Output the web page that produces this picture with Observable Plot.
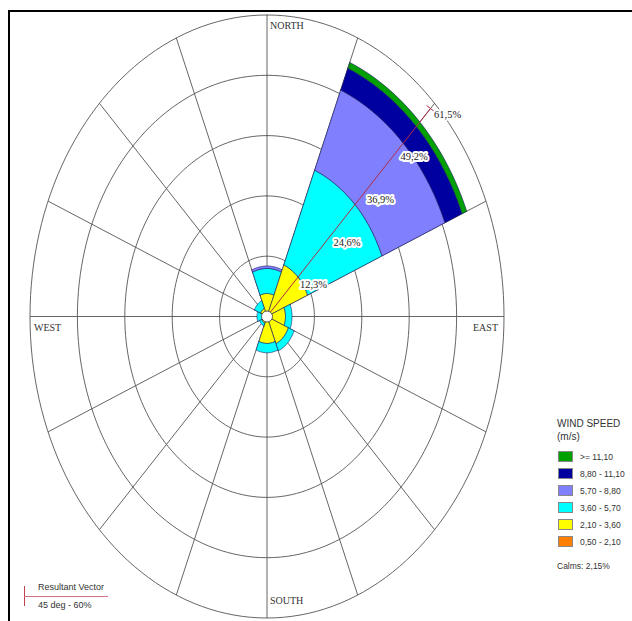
<!DOCTYPE html>
<html><head><meta charset="utf-8">
<script src="https://cdn.jsdelivr.net/npm/d3@7"></script>
<script src="https://cdn.jsdelivr.net/npm/@observablehq/plot@0.6"></script>
<style>
html,body{margin:0;padding:0;background:#fff;}
#wrap{position:relative;width:632px;height:621px;overflow:hidden;font-family:"Liberation Sans",Arial,sans-serif;color:#333;}
#chart{position:absolute;left:0;top:0;}
#frame{position:absolute;left:8px;top:10px;width:640px;height:640px;border-top:2.5px solid #000;border-left:2.5px solid #000;}
.abs{position:absolute;white-space:nowrap;}
.sw{position:absolute;width:15px;height:11px;border:1px solid #888;box-sizing:border-box;}
</style></head><body>
<div id="wrap"><div id="chart"></div><div id="frame"></div><div id="legend"></div></div>
<script>
// ---- data ----
const directions = ["N","NE","E","SE","S","SW","W","NW"];
const directionAngles = [0,45,90,135,180,225,270,315];
const speedBins = ["0,50 - 2,10","2,10 - 3,60","3,60 - 5,70","5,70 - 8,80","8,80 - 11,10",">= 11,10"];
const binColors = ["#ff8000","#ffff00","#00ffff","#8080ff","#0000a0","#00a000"];
// percent frequency per direction, one array per speed class
const bin050_210 = [0.3, 0.5, 0.3, 0.3, 0.2, 0.3, 0.3, 0.3];
const bin210_360 = [4.4, 10.9, 4.5, 5.7, 5.3, 1.2, 0.8, 1.5];
const bin360_570 = [5.1, 20.9, 1.7, 1.6, 1.9, 0.6, 1.5, 1.7];
const bin570_880 = [0.5, 17.7, 0.0, 0.0, 0.0, 0.0, 0.0, 0.0];
const bin880_1110 = [0.0, 4.8, 0.0, 0.0, 0.0, 0.0, 0.0, 0.0];
const bin1110 = [0.0, 1.3, 0.0, 0.0, 0.0, 0.0, 0.0, 0.0];
const ringValues = [12.3, 24.6, 36.9, 49.2, 61.5];
const ringLabels = ["12,3%", "24,6%", "36,9%", "49,2%", "61,5%"];
const gridAngles = d3.range(0, 360, 22.5);
const compassNames = ["NORTH", "EAST", "SOUTH", "WEST"];
const compassAngles = [0, 90, 180, 270];
const resultantAngle = 45;
const resultantValue = 60;
const calmsText = "Calms: 2,15%";

// ---- derived ----
const binsData = [bin050_210, bin210_360, bin360_570, bin570_880, bin880_1110, bin1110];
const maxR = ringValues[ringValues.length - 1];
const rad = a => a * Math.PI / 180;
const px = (r, a) => r * Math.sin(rad(a));
const py = (r, a) => r * Math.cos(rad(a));

const petals = [];
directions.forEach((dir, i) => {
  let cum = 0;
  binsData.forEach((arr, j) => {
    const v = arr[i];
    if (v <= 0) return;
    const r0 = cum, r1 = cum + v;
    cum = r1;
    const id = dir + "-" + j;
    const a0 = directionAngles[i] - 22.5, a1 = directionAngles[i] + 22.5;
    const pts = [];
    for (let a = a0; a <= a1 + 1e-9; a += 1.5) pts.push({id, bin: speedBins[j], x: px(r1, a), y: py(r1, a)});
    for (let a = a1; a >= a0 - 1e-9; a -= 1.5) pts.push({id, bin: speedBins[j], x: px(r0, a), y: py(r0, a)});
    pts.push({...pts[0]});
    petals.push(...pts);
  });
});

const ringPts = [];
ringValues.forEach(r => { for (let a = 0; a <= 360; a += 2) ringPts.push({ring: r, x: px(r, a), y: py(r, a)}); });
const spokes = gridAngles.map(a => ({x2: px(maxR, a), y2: py(maxR, a)}));

// layout
const cx = 266.5, cy = 316, rx = 237, ry = 301.5;
const kx = rx / maxR, ky = ry / maxR;
// resultant vector end tick (perpendicular in screen space)
const ex = px(resultantValue, resultantAngle), ey = py(resultantValue, resultantAngle);
let dxp = Math.sin(rad(resultantAngle)) * kx, dyp = -Math.cos(rad(resultantAngle)) * ky;
const L = Math.hypot(dxp, dyp); dxp /= L; dyp /= L;
const tpx = -dyp * 5, tpy = dxp * 5; // perpendicular pixel offset
const tick = [{x1: ex + tpx / kx, y1: ey - tpy / ky, x2: ex - tpx / kx, y2: ey + tpy / ky}];

const ringLab = ringValues.map((r, i) => ({x: px(r, 45), y: py(r, 45), t: ringLabels[i]}));
const compass = compassNames.map((n, i) => ({n, x: px(maxR, compassAngles[i]), y: py(maxR, compassAngles[i])}));

const plot = Plot.plot({
  width: 632, height: 621, margin: 0,
  x: {domain: [-maxR, maxR], range: [cx - rx, cx + rx], axis: null},
  y: {domain: [-maxR, maxR], range: [cy + ry, cy - ry], axis: null},
  color: {domain: speedBins, range: binColors},
  style: {background: "transparent"},
  marks: [
    Plot.line(ringPts, {x: "x", y: "y", z: "ring", stroke: "#555", strokeWidth: 0.9}),
    Plot.link(spokes, {x1: 0, y1: 0, x2: "x2", y2: "y2", stroke: "#555", strokeWidth: 0.9}),
    Plot.line(petals, {x: "x", y: "y", z: "id", fill: "bin", stroke: "#1a1a60", strokeWidth: 0.6}),
    Plot.link([{x2: ex, y2: ey}], {x1: 0, y1: 0, x2: "x2", y2: "y2", stroke: "#b02c44", strokeWidth: 1}),
    Plot.link(tick, {x1: "x1", y1: "y1", x2: "x2", y2: "y2", stroke: "#b02c44", strokeWidth: 1}),
    Plot.dot([{x: 0, y: 0}], {x: "x", y: "y", r: 5.5, fill: "white", stroke: "#333", strokeWidth: 0.8}),
    Plot.text(ringLab, {x: "x", y: "y", text: "t", dx: 13, dy: 11, fontFamily: "Liberation Serif", fontSize: 10.5, fill: "#222", stroke: "white", strokeWidth: 4, paintOrder: "stroke"}),
    Plot.text(compass.filter(d => d.n === "NORTH"), {x: "x", y: "y", text: "n", textAnchor: "start", dx: 3, dy: 11, fontFamily: "Liberation Serif", fontSize: 10, fill: "#333"}),
    Plot.text(compass.filter(d => d.n === "SOUTH"), {x: "x", y: "y", text: "n", textAnchor: "start", dx: 3, dy: -17, fontFamily: "Liberation Serif", fontSize: 10, fill: "#333"}),
    Plot.text(compass.filter(d => d.n === "WEST"), {x: "x", y: "y", text: "n", textAnchor: "start", dx: 4, dy: 11, fontFamily: "Liberation Serif", fontSize: 10, fill: "#333"}),
    Plot.text(compass.filter(d => d.n === "EAST"), {x: "x", y: "y", text: "n", textAnchor: "end", dx: -6, dy: 11, fontFamily: "Liberation Serif", fontSize: 10, fill: "#333"})
  ]
});
document.getElementById("chart").appendChild(plot);

// ---- legend ----
const leg = document.getElementById("legend");
function addText(t, left, cyText, size) {
  const d = document.createElement("div");
  d.className = "abs"; d.textContent = t;
  d.style.left = left + "px"; d.style.top = (cyText - size * 0.6) + "px";
  d.style.fontSize = size + "px"; d.style.lineHeight = (size * 1.2) + "px";
  leg.appendChild(d);
}
addText("WIND SPEED", 557, 424, 10);
addText("(m/s)", 557, 437, 10);
const order = speedBins.map((b, i) => i).reverse();
order.forEach((bi, k) => {
  const yc = 457 + 17 * k;
  const s = document.createElement("div");
  s.className = "sw"; s.style.left = "558px"; s.style.top = (yc - 6) + "px";
  s.style.background = binColors[bi];
  leg.appendChild(s);
  addText(speedBins[bi], 580, yc, 8.5);
});
addText(calmsText, 557, 566, 8.5);

// resultant vector legend
const rv = document.createElement("div");
rv.className = "abs";
rv.style.cssText = "position:absolute;left:24px;top:586px;width:1px;height:20px;background:#c04050;";
leg.appendChild(rv);
const rh = document.createElement("div");
rh.style.cssText = "position:absolute;left:24px;top:596px;width:84px;height:1px;background:#d07080;";
leg.appendChild(rh);
addText("Resultant Vector", 38, 587, 9);
addText(resultantAngle + " deg - " + resultantValue + "%", 38, 605, 9);
</script>
</body></html>
